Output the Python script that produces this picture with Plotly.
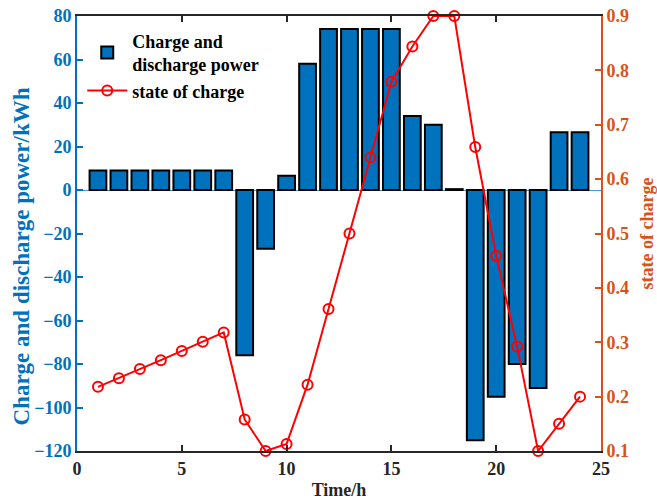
import plotly.graph_objects as go

hours = list(range(1, 25))
power = [9, 9, 9, 9, 9, 9, 9, -76, -27, 6.6, 58, 74, 74, 74, 74, 34, 30, 0.4,
         -115, -95, -80, -91, 26.5, 26.5]
soc = [0.218, 0.234, 0.251, 0.267, 0.284, 0.301, 0.318, 0.158, 0.1, 0.113,
       0.222, 0.361, 0.5, 0.64, 0.779, 0.844, 0.9, 0.9, 0.659, 0.459, 0.292,
       0.1, 0.15, 0.2]

BLUE = '#0072BD'
ORANGE = '#D95319'
FONT = '"Liberation Serif", "Times New Roman", "DejaVu Serif", serif'

fig = go.Figure()
fig.add_trace(go.Bar(
    x=hours, y=power, name='Charge and<br>discharge power',
    marker=dict(color=BLUE, line=dict(color='black', width=2)),
    yaxis='y'))
fig.add_trace(go.Scatter(
    x=hours, y=soc, name='state of charge', mode='lines+markers',
    line=dict(color='#FF0000', width=2),
    marker=dict(symbol='circle-open', size=10, color='#FF0000',
                line=dict(width=2, color='#FF0000')),
    yaxis='y2', cliponaxis=False))

fig.update_layout(
    width=657, height=501,
    margin=dict(l=77, r=56, t=16, b=50),
    plot_bgcolor='white', paper_bgcolor='white',
    font=dict(family=FONT, size=18, color='black'),
    bargap=0.2,
    showlegend=True,
    legend=dict(x=0.01, y=0.985, xanchor='left', yanchor='top',
                bgcolor='rgba(255,255,255,0)', borderwidth=0,
                font=dict(family=FONT, size=18, color='black', weight='bold'),
                tracegroupgap=0, itemwidth=40),
    xaxis=dict(range=[0, 25], tickvals=[0, 5, 10, 15, 20, 25],
               showgrid=False, zeroline=False, automargin=False,
               showline=True, linecolor='#262626', linewidth=2,
               mirror='ticks', ticks='inside', ticklen=6, tickwidth=2,
               tickcolor='#262626',
               tickfont=dict(family=FONT, size=18, color='#262626', weight='bold'),
               title=dict(text='Time/h', standoff=6,
                          font=dict(family=FONT, size=18, color='#262626', weight='bold'))),
    yaxis=dict(range=[-120, 80], tickvals=list(range(-120, 81, 20)),
               showgrid=False, zeroline=True, zerolinecolor='#4A9BD6', zerolinewidth=1,
               automargin=False,
               showline=True, linecolor=BLUE, linewidth=2,
               ticks='inside', ticklen=6, tickwidth=2, tickcolor=BLUE,
               tickfont=dict(family=FONT, size=18, color=BLUE, weight='bold')),
    yaxis2=dict(range=[0.1, 0.9], tickvals=[0.1, 0.2, 0.3, 0.4, 0.5, 0.6, 0.7, 0.8, 0.9],
                tickformat='.1f', automargin=False,
                overlaying='y', side='right', showgrid=False, zeroline=False,
                showline=True, linecolor=ORANGE, linewidth=2,
                ticks='inside', ticklen=6, tickwidth=2, tickcolor=ORANGE,
                tickfont=dict(family=FONT, size=18, color=ORANGE, weight='bold'),
                title=dict(text='state of charge', standoff=13,
                           font=dict(family=FONT, size=18, color=ORANGE, weight='bold'))),
    annotations=[dict(
        text='Charge and discharge power/kWh', textangle=-90,
        xref='paper', yref='paper', x=(21 - 77) / 524, y=(451 - 256.5) / 435,
        xanchor='center', yanchor='middle', showarrow=False,
        font=dict(family=FONT, size=23, color=BLUE, weight='bold'))],
)

fig.write_html('out.html')
